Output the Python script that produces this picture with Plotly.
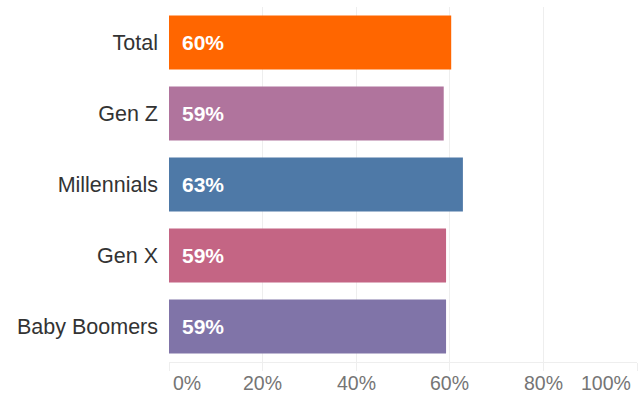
import plotly.graph_objects as go

categories = ["Total", "Gen Z", "Millennials", "Gen X", "Baby Boomers"]
values = [60.3, 58.7, 62.8, 59.2, 59.2]
labels = ["60%", "59%", "63%", "59%", "59%"]
colors = ["#FF6600", "#B0749D", "#4E79A7", "#C46584", "#8074A8"]
tick_vals = [0, 20, 40, 60, 80, 100]
tick_text = ["0%", "20%", "40%", "60%", "80%", "100%"]

FONT = "Liberation Sans, Arial, sans-serif"

fig = go.Figure()
fig.add_trace(go.Bar(
    y=categories, x=values, orientation="h",
    marker=dict(color=colors, line=dict(width=0)),
    hoverinfo="skip",
))

annotations = []
for cat, lab in zip(categories, labels):
    annotations.append(dict(
        x=0, y=cat, xref="x", yref="y", text=lab, showarrow=False,
        xanchor="left", yanchor="middle", xshift=11,
        font=dict(family=FONT, size=21, color="white", weight="bold"),
    ))
for tv, tt in zip(tick_vals, tick_text):
    if tv == 0:
        anchor, shift = "left", 3
    elif tv == 100:
        anchor, shift = "right", -5
    else:
        anchor, shift = "center", 0
    annotations.append(dict(
        x=tv, y=0, xref="x", yref="paper", text=tt, showarrow=False,
        xanchor=anchor, yanchor="top", xshift=shift, yshift=-9,
        borderpad=0,
        font=dict(family=FONT, size=19.5, color="#757575"),
    ))

fig.update_layout(
    width=641, height=396,
    margin=dict(l=169, r=4, t=7, b=34),
    paper_bgcolor="white", plot_bgcolor="white",
    bargap=0.24,
    showlegend=False,
    annotations=annotations,
    xaxis=dict(
        range=[0, 100], tickvals=tick_vals, showticklabels=False,
        showgrid=True, gridcolor="#EEEEEE", gridwidth=1,
        zeroline=False, showline=True, linecolor="#EEEEEE", linewidth=1,
        ticks="outside", ticklen=8, tickcolor="#EEEEEE",
        fixedrange=True,
    ),
    yaxis=dict(
        categoryorder="array", categoryarray=categories, autorange="reversed",
        showgrid=False, zeroline=False, showline=False, ticks="",
        ticklabelstandoff=10,
        tickfont=dict(family=FONT, size=21.5, color="#333333"),
        fixedrange=True,
    ),
)

fig.write_html("out.html", config={"displayModeBar": False})
